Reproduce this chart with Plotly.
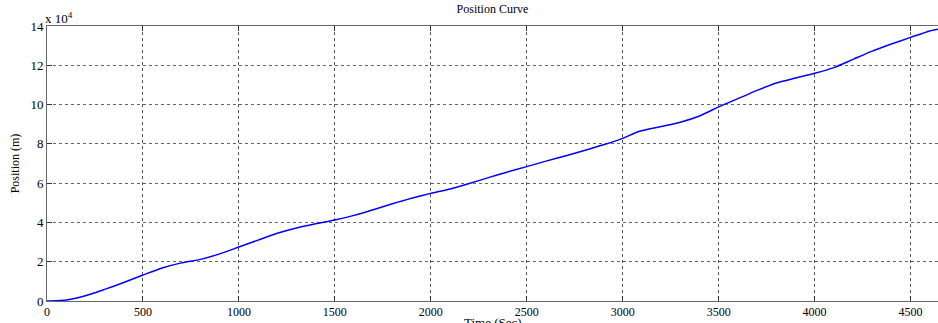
import plotly.graph_objects as go

time_sec = [0, 50, 100, 150, 200, 250, 300, 400, 500, 600, 700, 800, 900, 1000,
            1100, 1200, 1300, 1400, 1500, 1600, 1700, 1800, 1900, 2000, 2100, 2200,
            2300, 2400, 2500, 2600, 2700, 2800, 2900, 3000, 3080, 3200, 3300, 3400,
            3500, 3600, 3700, 3800, 3900, 4000, 4100, 4200, 4300, 4400, 4500, 4600, 4650]
position_m = [0, 150, 500, 1400, 2700, 4200, 5900, 9400, 13200, 16800, 19400, 21200,
              24000, 27500, 31000, 34500, 37200, 39300, 41200, 43600, 46500, 49500,
              52300, 54800, 57000, 59800, 62800, 65700, 68400, 71200, 73800, 76600,
              79500, 82800, 86200, 88800, 91000, 94200, 98800, 103000, 107200, 111000,
              113500, 115900, 118800, 123000, 127200, 130800, 134200, 137500, 138500]
y_tick_vals = [0, 20000, 40000, 60000, 80000, 100000, 120000, 140000]
y_tick_text = ["0", "2", "4", "6", "8", "10", "12", "14"]
x_tick_vals = [0, 500, 1000, 1500, 2000, 2500, 3000, 3500, 4000, 4500]

font_family = "Times New Roman"

fig = go.Figure()
fig.add_trace(go.Scatter(x=time_sec, y=position_m, mode="lines", line_shape="spline",
                         line=dict(color="#0000ff", width=1.5, smoothing=0.6),
                         showlegend=False))

fig.update_layout(
    width=938, height=323,
    margin=dict(l=47, r=0, t=26, b=22),
    paper_bgcolor="white", plot_bgcolor="white",
    font=dict(family=font_family, size=12, color="black"),
    title=dict(text="Position Curve", x=0.525, xanchor="center", y=0.985, yanchor="top",
               font=dict(family=font_family, size=12, color="black")),
    xaxis=dict(range=[0, 4643], tickvals=x_tick_vals, ticks="inside", ticklen=5,
               tickcolor="#333", showline=True, linecolor="#666", linewidth=1,
               mirror="ticks", showgrid=True, gridcolor="#555", griddash="dot",
               gridwidth=1, zeroline=False, automargin=False, ticklabelstandoff=0,
               tickfont=dict(family=font_family, size=12)),
    yaxis=dict(range=[0, 140000], tickvals=y_tick_vals, ticktext=y_tick_text,
               ticks="inside", ticklen=5, tickcolor="#333", showline=True,
               linecolor="#666", linewidth=1, mirror=False, showgrid=True,
               gridcolor="#666", griddash="3px,3px", gridwidth=1, zeroline=False,
               automargin=False,
               tickfont=dict(family=font_family, size=13),
               title=dict(text="Position (m)", standoff=8,
                          font=dict(family=font_family, size=12))),
)
fig.add_annotation(xref="paper", yref="paper", x=0, y=1.0, xanchor="left", yanchor="bottom",
                   text="x 10<sup>4</sup>", showarrow=False, xshift=-4, yshift=-2,
                   font=dict(family=font_family, size=13, color="black"))
fig.add_annotation(xref="paper", yref="paper", x=0.5, y=0, xanchor="center", yanchor="top",
                   text="Time (Sec)", showarrow=False, yshift=-12,
                   font=dict(family=font_family, size=13, color="black"))

fig.write_html("out.html")
